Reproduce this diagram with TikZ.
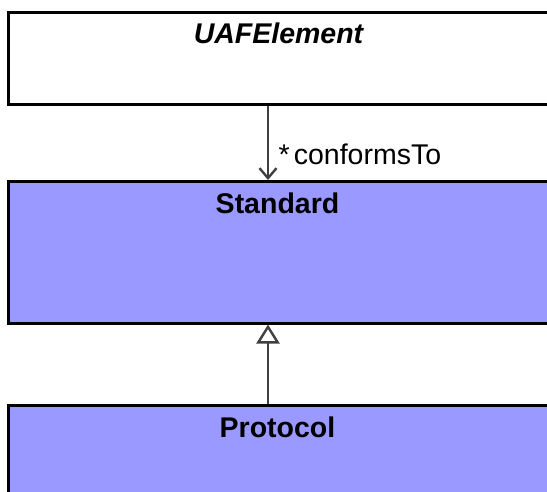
\documentclass[tikz,border=0pt]{standalone}
\usepackage{fontspec}
\setmainfont{Liberation Sans}
\usetikzlibrary{arrows.meta,positioning}
\definecolor{stdblue}{HTML}{9999FF}
\definecolor{linkgrey}{HTML}{404040}

\begin{document}
\begin{tikzpicture}[x=1pt,y=1pt,classbox/.style={draw=black,line width=2.5pt,anchor=north west,minimum width=542pt,inner sep=0pt},classname/.style={anchor=base,font=\fontsize{28.5}{34}\selectfont\bfseries},link/.style={draw=linkgrey,line width=2.4pt}]
\useasboundingbox (0,0) rectangle (547,-491);
\clip (0,0) rectangle (547,-491);
\coordinate (axis) at (268,0);
\node[classbox,fill=white,minimum height=92pt] (uafelement) at (7,-11) {};
\node[classname,font=\fontsize{28.5}{34}\selectfont\bfseries\itshape] (uafname) at (278.5,-43) {UAFElement};
\node[classbox,fill=stdblue,minimum height=142pt] (standard) at (7,-180) {};
\node[classname] (stdname) at (277.5,-213) {Standard};
\node[classbox,fill=stdblue,minimum height=150pt] (protocol) at (7,-404) {};
\node[classname] (protname) at (277.5,-437) {Protocol};
\draw[link,-{Straight Barb[length=10pt,width=17pt]}] (uafelement.south -| axis) -- (standard.north -| axis);
\node[anchor=base west,font=\fontsize{28.5}{34}\selectfont] (conforms) at (275,-164) {*\hspace{0.15em}conformsTo};
\draw[link,-{Triangle[open,length=19pt,width=23pt,fill=white]}] (protocol.north -| axis) -- (standard.south -| axis);
\end{tikzpicture}
\end{document}
